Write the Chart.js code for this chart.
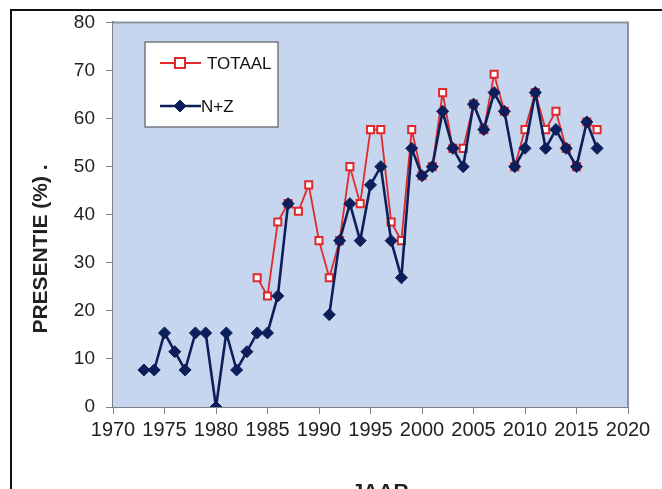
<!DOCTYPE html>
<html>
<head>
<meta charset="utf-8">
<script src="https://cdn.jsdelivr.net/npm/chart.js@4.4.1/dist/chart.umd.min.js"></script>
<style>
  body { margin: 0; background: #fff; overflow: hidden; }
  #frame { position: absolute; left: 10px; top: 9px; width: 660px; height: 490px;
           border-top: 2px solid #111; border-left: 2px solid #111; }
  #chart { position: absolute; left: 0; top: 0; }
</style>
</head>
<body>
<div id="frame"></div>
<canvas id="chart" width="662" height="489"></canvas>
<script>
const years = [1973, 1974, 1975, 1976, 1977, 1978, 1979, 1980, 1981, 1982,
    1983, 1984, 1985, 1986, 1987, 1988, 1989, 1990, 1991, 1992,
    1993, 1994, 1995, 1996, 1997, 1998, 1999, 2000, 2001, 2002,
    2003, 2004, 2005, 2006, 2007, 2008, 2009, 2010, 2011, 2012,
    2013, 2014, 2015, 2016, 2017]

const totaal = [null, null, null, null, null, null, null, null, null, null,
    null, 26.9, 23.1, 38.5, 42.3, 40.7, 46.2, 34.6, 26.9, 34.6,
    50, 42.3, 57.7, 57.7, 38.5, 34.6, 57.7, 48.1, 50, 65.4,
    53.8, 53.8, 63, 57.7, 69.2, 61.5, 50, 57.7, 65.4, 57.7,
    61.5, 53.8, 50, 59.3, 57.7]

const nz = [7.7, 7.7, 15.4, 11.5, 7.7, 15.4, 15.4, 0, 15.4, 7.7,
    11.5, 15.4, 15.4, 23.1, 42.3, null, null, null, 19.2, 34.6,
    42.3, 34.6, 46.2, 50, 34.6, 26.9, 53.8, 48.1, 50, 61.5,
    53.8, 50, 63, 57.7, 65.4, 61.5, 50, 53.8, 65.4, 53.8,
    57.7, 53.8, 50, 59.3, 53.8]

const xTickLabels = ['1970', '1975', '1980', '1985', '1990', '1995', '2000', '2005', '2010', '2015', '2020']
const seriesNames = ['TOTAAL', 'N+Z']
const yTitle = 'PRESENTIE (%) .'
const xTitle = 'JAAR'

const RED = '#e0292b'
const NAVY = '#0c1f5a'
const AXIS = '#7d8088'

// plot background + top/right border
const plotBg = {
    id: 'plotBg',
    beforeDatasetsDraw(chart) {
        const {ctx, chartArea: a} = chart
        ctx.save()
        ctx.fillStyle = '#c6d6ee'
        ctx.fillRect(a.left, a.top, a.right - a.left, a.bottom - a.top)
        ctx.strokeStyle = '#8e939c'
        ctx.lineWidth = 2
        ctx.beginPath()
        ctx.moveTo(a.left, a.top)
        ctx.lineTo(a.right, a.top)
        ctx.lineTo(a.right, a.bottom)
        ctx.stroke()
        ctx.restore()
    }
}

function drawMarker(ctx, ds, x, y) {
    const r = ds.pointRadius
    ctx.beginPath()
    if (ds.pointStyle == 'rectRot') {
        ctx.moveTo(x, y - r); ctx.lineTo(x + r, y); ctx.lineTo(x, y + r); ctx.lineTo(x - r, y)
    } else {
        ctx.rect(x - r, y - r, r * 2, r * 2)
    }
    ctx.closePath()
    ctx.fillStyle = ds.pointBackgroundColor
    ctx.fill()
    ctx.lineWidth = ds.pointBorderWidth
    ctx.strokeStyle = ds.borderColor
    ctx.stroke()
}

// legend box inside the plot + axis titles
const extras = {
    id: 'extras',
    afterDraw(chart) {
        const ctx = chart.ctx
        ctx.save()
        ctx.fillStyle = '#fff'
        ctx.fillRect(145, 42, 133, 85)
        ctx.strokeStyle = '#5a5d63'
        ctx.lineWidth = 1.2
        ctx.strokeRect(145, 42, 133, 85)

        const rows = [63, 106]
        chart.data.datasets.forEach((ds, i) => {
            const y = rows[i]
            ctx.strokeStyle = ds.borderColor
            ctx.lineWidth = ds.borderWidth
            ctx.beginPath()
            ctx.moveTo(160, y)
            ctx.lineTo(201, y)
            ctx.stroke()
            drawMarker(ctx, ds, 180, y)
            ctx.fillStyle = '#111'
            ctx.font = '17px "Liberation Sans", Arial, sans-serif'
            ctx.textBaseline = 'middle'
            ctx.fillText(ds.label, i == 0 ? 207 : 201, y + 1)
        })

        ctx.fillStyle = '#222'
        ctx.font = 'bold 21px "Liberation Sans", Arial, sans-serif'
        ctx.textAlign = 'center'
        ctx.textBaseline = 'middle'
        ctx.save()
        ctx.translate(41, 249)
        ctx.rotate(-Math.PI / 2)
        ctx.fillText(yTitle, 0, 0)
        ctx.restore()
        ctx.textBaseline = 'alphabetic'
        ctx.fillText(xTitle, 380, 498)
        ctx.restore()
    }
}

const ctx = document.getElementById('chart')

var myChart = new Chart(ctx, {
    type: 'line',
    data: {
        datasets: [{
            label: seriesNames[0],
            data: years.map((yr, i) => ({x: yr, y: totaal[i]})),
            borderColor: RED,
            borderWidth: 1.8,
            pointStyle: 'rect',
            pointRadius: 5,
            pointBackgroundColor: '#fff',
            pointBorderWidth: 2,
            order: 2,
            tension: 0
        }, {
            label: seriesNames[1],
            data: years.map((yr, i) => ({x: yr, y: nz[i]})),
            borderColor: NAVY,
            borderWidth: 2.6,
            pointStyle: 'rectRot',
            pointRadius: 6,
            pointBackgroundColor: NAVY,
            pointBorderWidth: 1,
            order: 1,
            tension: 0
        }]
    },
    options: {
        responsive: false,
        animation: false,
        layout: { padding: { left: 0, top: 20, right: 34, bottom: 0 } },
        plugins: {
            legend: { display: false },
            tooltip: { enabled: false }
        },
        scales: {
            x: {
                type: 'linear',
                min: 1970,
                max: 2020,
                afterFit: s => { s.height = 82 },
                ticks: {
                    stepSize: 5,
                    color: '#222',
                    padding: 4,
                    font: { family: '"Liberation Sans", Arial, sans-serif', size: 20 },
                    maxRotation: 0,
                    callback: (v, i) => xTickLabels[i]
                },
                grid: { drawOnChartArea: false, color: AXIS, tickLength: 7 },
                border: { color: AXIS, width: 2 }
            },
            y: {
                min: 0,
                max: 80,
                afterFit: s => { s.width = 113 },
                ticks: {
                    stepSize: 10,
                    color: '#222',
                    padding: 11,
                    font: { family: '"Liberation Sans", Arial, sans-serif', size: 19 }
                },
                grid: { drawOnChartArea: false, color: AXIS, tickLength: 7 },
                border: { color: AXIS, width: 2 }
            }
        }
    },
    plugins: [plotBg, extras]
})
</script>
</body>
</html>
